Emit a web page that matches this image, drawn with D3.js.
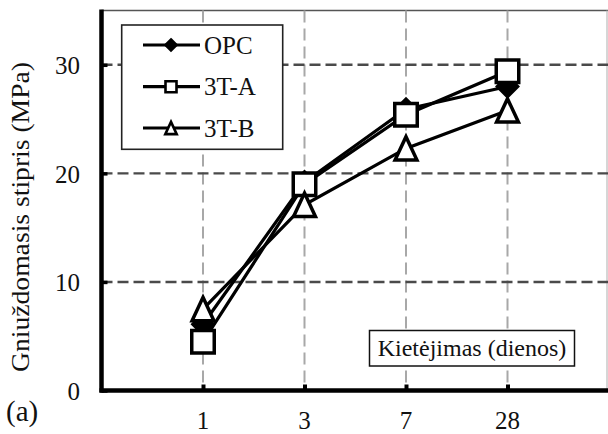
<!DOCTYPE html>
<html>
<head>
<meta charset="utf-8">
<script src="https://cdn.jsdelivr.net/npm/d3@7"></script>
<style>
  html, body { margin: 0; padding: 0; background: #fff; }
  svg { display: block; }
</style>
</head>
<body>
<svg id="chart" width="608" height="434"></svg>
<script>
// Curing age (days) and compressive strength (MPa) for each mix
const categories = ["1", "3", "7", "28"];
const opc = [6.1, 19.2, 25.9, 28.0];
const mix3TA = [4.5, 19.0, 25.4, 29.4];
const mix3TB = [7.5, 17.1, 22.3, 25.8];
const seriesNames = ["OPC", "3T-A", "3T-B"];
const yTicks = [0, 10, 20, 30];

const series = [
  { name: seriesNames[0], values: opc, marker: "diamond" },
  { name: seriesNames[1], values: mix3TA, marker: "square" },
  { name: seriesNames[2], values: mix3TB, marker: "triangle" }
];

const FONT = "'Liberation Serif', 'Times New Roman', Times, 'DejaVu Serif', serif";

const svg = d3.select("#chart");
const plotL = 101.5, plotR = 609, plotT = 10.5, plotB = 390.5;

const x = d3.scaleLinear().domain([0, categories.length + 1]).range([plotL, plotR]);
const y = d3.scaleLinear().domain([0, 35]).range([plotB, plotT]);
const xi = i => x(i + 1);

// marker shapes, centred on the point
function markerPath(type, s) {
  if (type === "square") {
    return `M${-s/2},${-s/2}H${s/2}V${s/2}H${-s/2}Z`;
  }
  if (type === "triangle") {
    const w = s * 0.95, h = s * 1.02;
    return `M0,${-h/2}L${w/2},${h/2}L${-w/2},${h/2}Z`;
  }
  // diamond
  const r = s / 2;
  return `M0,${-r}L${r},0L0,${r}L${-r},0Z`;
}

// plot frame (top and right edges)
svg.append("line").attr("x1", plotL).attr("x2", 608).attr("y1", plotT).attr("y2", plotT)
  .attr("stroke", "#555").attr("stroke-width", 1.6);
svg.append("line").attr("x1", 607).attr("x2", 607).attr("y1", plotT).attr("y2", plotB)
  .attr("stroke", "#bbb").attr("stroke-width", 1.2);

// vertical grid
svg.append("g").selectAll("line").data(categories).join("line")
  .attr("x1", (d, i) => xi(i)).attr("x2", (d, i) => xi(i))
  .attr("y1", plotT).attr("y2", plotB)
  .attr("stroke", "#a8a8a8").attr("stroke-width", 2)
  .attr("stroke-dasharray", "12,6");

// horizontal grid
svg.append("g").selectAll("line").data(yTicks.filter(d => d > 0)).join("line")
  .attr("x1", plotL).attr("x2", 608)
  .attr("y1", d => y(d)).attr("y2", d => y(d))
  .attr("stroke", "#4a4a4a").attr("stroke-width", 2.4)
  .attr("stroke-dasharray", "11,5");

// y axis
const yAxis = d3.axisRight(y).tickValues(yTicks).tickSize(6).tickFormat("");
const gy = svg.append("g").attr("transform", `translate(${plotL},0)`).call(yAxis);
gy.select(".domain").remove();
gy.selectAll(".tick line").attr("stroke", "#000").attr("stroke-width", 3.5);
svg.append("g").selectAll("text").data(yTicks).join("text")
  .attr("x", 80).attr("y", d => y(d)).attr("dy", "0.38em")
  .attr("text-anchor", "end").attr("font-size", 25)
  .attr("font-family", FONT).attr("fill", "#111")
  .text(d => d);

// x axis
const xAxis = d3.axisTop(x).tickValues(categories.map((c, i) => i + 1)).tickSize(6).tickFormat("");
const gx = svg.append("g").attr("transform", `translate(0,${plotB})`).call(xAxis);
gx.select(".domain").remove();
gx.selectAll(".tick line").attr("stroke", "#000").attr("stroke-width", 4);
svg.append("g").selectAll("text").data(categories).join("text")
  .attr("x", (d, i) => xi(i)).attr("y", 429)
  .attr("text-anchor", "middle").attr("font-size", 25)
  .attr("font-family", FONT).attr("fill", "#111")
  .text(d => d);

// axis lines
svg.append("line").attr("x1", plotL).attr("x2", plotL).attr("y1", plotT - 1).attr("y2", plotB + 2)
  .attr("stroke", "#000").attr("stroke-width", 4.5);
svg.append("line").attr("x1", plotL - 2).attr("x2", 608).attr("y1", plotB).attr("y2", plotB)
  .attr("stroke", "#000").attr("stroke-width", 4.5);

// series lines and markers
const line = d3.line().x((d, i) => xi(i)).y(d => y(d));
series.forEach(s => {
  svg.append("path").datum(s.values)
    .attr("d", line).attr("fill", "none")
    .attr("stroke", "#000").attr("stroke-width", 3.2);
  const size = s.marker === "diamond" ? 20 : s.marker === "square" ? 22.5 : 23;
  svg.append("g").selectAll("path").data(s.values).join("path")
    .attr("transform", (d, i) => `translate(${xi(i)},${y(d)})`)
    .attr("d", markerPath(s.marker, size))
    .attr("fill", s.marker === "diamond" ? "#000" : "#fff")
    .attr("stroke", "#000").attr("stroke-width", 3.5)
    .attr("stroke-linejoin", "miter");
});

// legend
const legend = svg.append("g");
legend.append("rect").attr("x", 121.7).attr("y", 25).attr("width", 161).attr("height", 124.3)
  .attr("fill", "#fff").attr("stroke", "#222").attr("stroke-width", 1.6);
const rowY = [45, 86.7, 128];
series.forEach((s, k) => {
  const g = legend.append("g").attr("transform", `translate(0,${rowY[k]})`);
  g.append("line").attr("x1", 143).attr("x2", 200).attr("y1", 0).attr("y2", 0)
    .attr("stroke", "#000").attr("stroke-width", 3.2);
  g.append("path").attr("transform", "translate(171,0)")
    .attr("d", markerPath(s.marker, s.marker === "triangle" ? 12 : 11))
    .attr("fill", s.marker === "diamond" ? "#000" : "#fff")
    .attr("stroke", "#000").attr("stroke-width", 2.6);
  g.append("text").attr("x", 204).attr("y", 0).attr("dy", "0.35em")
    .attr("font-size", 25).attr("font-family", FONT).attr("fill", "#111")
    .text(s.name);
});

// x-axis title box inside the plot
svg.append("rect").attr("x", 369.5).attr("y", 330.5).attr("width", 205).attr("height", 35.5)
  .attr("fill", "#fff").attr("stroke", "#111").attr("stroke-width", 1.5);
svg.append("text").attr("x", 472).attr("y", 356).attr("text-anchor", "middle")
  .attr("font-size", 24).attr("font-family", FONT).attr("fill", "#111")
  .text("Kietėjimas (dienos)");

// y-axis title
svg.append("text").attr("transform", "translate(29,217) rotate(-90)")
  .attr("text-anchor", "middle").attr("font-size", 25)
  .attr("font-family", FONT).attr("fill", "#111")
  .attr("textLength", 310).attr("lengthAdjust", "spacingAndGlyphs")
  .text("Gniuždomasis stipris (MPa)");

// panel label
svg.append("text").attr("x", 6).attr("y", 421).attr("font-size", 29)
  .attr("font-family", FONT).attr("fill", "#111").text("(a)");
</script>
</body>
</html>
